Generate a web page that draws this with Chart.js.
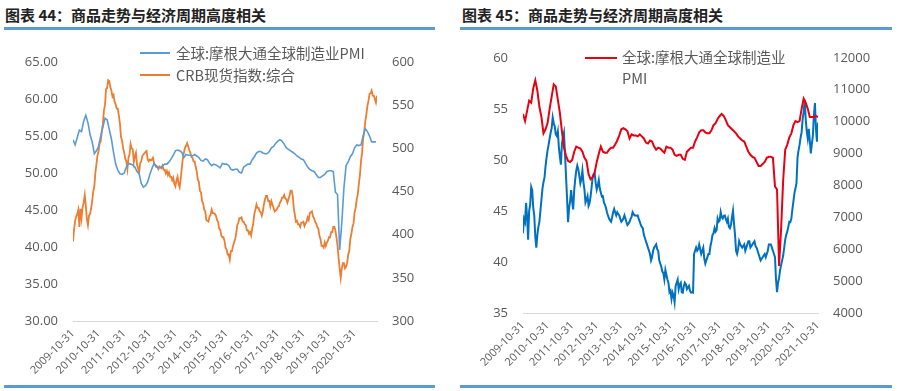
<!DOCTYPE html>
<html>
<head>
<meta charset="utf-8">
<script src="https://cdn.jsdelivr.net/npm/chart.js@4.4.0/dist/chart.umd.min.js"></script>
<style>
  html, body { margin:0; padding:0; background:#fff; }
  body { width:907px; height:391px; position:relative; overflow:hidden; font-family:"Noto Sans CJK SC", "Open Sans", sans-serif; }
  .title { position:absolute; top:4px; font-size:15px; font-weight:700; color:#222; white-space:nowrap; }
  .rule { position:absolute; height:3px; background:#5b9bd5; }
  .leg { position:absolute; font-size:14.5px; color:#595959; white-space:nowrap; line-height:20px; }
  .sw { position:absolute; height:2px; }
  canvas { position:absolute; }
</style>
</head>
<body>
<div class="title" style="left:5px">图表 44：商品走势与经济周期高度相关</div>
<div class="title" style="left:462px">图表 45：商品走势与经济周期高度相关</div>
<div class="rule" style="left:4px; width:431px; top:27px"></div>
<div class="rule" style="left:460px; width:432px; top:27px"></div>
<div class="rule" style="left:4px; width:431px; top:385px"></div>
<div class="rule" style="left:460px; width:432px; top:385px"></div>

<canvas id="left" width="440" height="350" style="left:0; top:35px"></canvas>
<canvas id="right" width="457" height="350" style="left:450px; top:35px"></canvas>

<div class="sw" style="left:140px; top:52px; width:30px; background:#5b9bd5"></div>
<div class="leg" style="left:176px; top:43px">全球:摩根大通全球制造业PMI</div>
<div class="sw" style="left:140px; top:74px; width:30px; background:#ed7d31"></div>
<div class="leg" style="left:176px; top:65px">CRB现货指数:综合</div>

<div class="sw" style="left:585px; top:57px; width:32px; background:#e60012"></div>
<div class="leg" style="left:622px; top:47px">全球:摩根大通全球制造业</div>
<div class="leg" style="left:622px; top:68px">PMI</div>

<script>
// x axis tick labels (one per year, every 12 months from Oct 2009)
const yearLabels = ['2009-10-31','2010-10-31','2011-10-31','2012-10-31','2013-10-31','2014-10-31',
  '2015-10-31','2016-10-31','2017-10-31','2018-10-31','2019-10-31','2020-10-31','2021-10-31'];

// JPM global manufacturing PMI, monthly from Oct 2009
const pmiValues = [
  54.5,53.8,54.8,55.8,55.6,57.0,57.8,56.8,55.2,54.2,52.6,53.0,
  53.6,55.0,56.2,57.4,57.2,55.9,54.6,52.8,51.2,50.4,49.9,49.8,
  50.0,50.8,51.3,51.2,51.1,50.8,50.2,49.9,48.6,48.1,48.3,48.8,
  49.8,50.6,51.3,50.8,50.7,50.7,51.0,51.2,51.2,51.5,51.9,52.4,
  53.0,53.1,53.0,52.8,52.1,52.5,52.4,52.4,52.3,52.5,52.3,52.1,
  51.7,51.6,51.9,51.8,51.3,51.0,51.2,51.1,50.9,50.7,51.3,51.2,
  51.2,51.0,50.5,50.4,50.5,50.5,50.1,50.0,50.8,51.0,51.2,51.2,
  51.8,52.2,52.7,52.9,52.9,52.7,52.6,52.6,52.9,53.4,53.6,54.0,
  54.3,54.5,54.3,53.9,53.4,53.2,53.0,52.8,52.6,52.3,52.1,51.9,
  51.8,51.3,50.8,50.5,50.3,50.2,49.8,49.4,49.4,49.6,49.8,50.2,
  50.3,50.3,50.2,47.4,47.1,39.6,43.3,48.0,51.0,51.5,52.2,52.6,
  53.4,53.8,53.7,53.8,55.0,56.0,55.6,55.0,54.2,54.2,54.2,54.3,
  54.2
];

// CRB spot index composite, two readings per month from Oct 2009
const crbValues = [
  392,406,416,421,424,429,409,430,419,432,437,446,
  434,418,411,422,424,430,439,450,456,472,482,492,
  497,506,508,520,528,544,550,569,570,579,578,571,
  567,560,562,554,551,546,546,538,529,513,509,500,
  495,488,485,476,489,493,505,500,499,484,491,495,
  481,477,472,483,485,491,493,494,496,497,487,485,
  487,486,487,489,482,481,480,479,476,479,478,477,
  480,475,475,471,474,469,472,467,467,463,466,459,
  456,463,467,459,455,465,477,489,495,501,503,506,
  502,498,495,490,489,485,485,479,473,464,461,451,
  449,439,436,429,427,417,416,415,421,423,429,425,
  425,424,422,417,415,407,406,399,397,397,393,385,
  383,377,377,371,381,381,387,391,395,401,411,414,
  419,419,420,415,415,412,411,405,405,401,403,399,
  407,413,424,429,435,431,431,427,426,422,427,435,
  441,445,445,439,439,433,439,435,431,427,428,429,
  432,433,437,439,443,443,446,442,441,437,441,445,
  451,451,445,431,423,415,416,412,412,409,414,414,
  415,410,413,415,420,417,425,426,427,421,419,415,
  413,409,407,399,395,387,387,385,391,387,391,393,
  397,397,403,403,409,409,405,397,387,373,361,350,
  361,367,367,361,363,367,377,381,395,401,409,413,
  426,431,441,447,459,469,485,495,511,519,531,539,
  549,555,563,564,567,561,561,557,553,561
];

// commodity index on the right chart (right axis), two readings per month from Oct 2009
const indexValues = [
  6500,6950,6850,7450,7000,6300,7200,7400,7950,7850,7300,7050,
  6400,6050,6450,6700,6850,7200,7550,7900,8100,8250,8600,8870,
  9100,9280,9470,9650,9800,10130,9950,9850,9600,9550,9700,9200,
  8900,8650,9300,9500,9650,9000,8300,7600,6850,7300,7500,7850,
  7500,7250,7850,8200,8470,8620,8500,8300,8070,8200,8470,8100,
  7870,7460,7550,7660,7360,7450,7660,7950,8260,8350,8370,8070,
  7870,8000,8170,7900,7770,7650,7660,7460,7400,7300,7150,7050,
  6960,6900,6860,7000,7160,7260,7150,7060,7160,7100,7060,6950,
  6860,6900,6960,7060,6960,6850,6760,6800,6860,6950,7010,7160,
  7100,7060,7060,7050,7060,6950,6860,6760,6700,6650,6450,6350,
  6250,6150,6050,5950,5850,5650,5750,5950,6050,6100,6150,6000,
  5950,5650,5550,5450,5300,5250,5050,5350,5200,5050,4950,4650,
  4700,4440,4640,4550,4340,4840,4950,5050,4750,4900,4950,4650,
  4640,4850,4950,4900,4750,4800,4850,4700,4640,4650,4640,5850,
  5950,6050,5950,6000,6150,6000,5850,5950,6050,5700,5550,5650,
  5750,5850,5850,6100,6250,6450,6500,6660,6550,6600,6960,6860,
  6900,7160,7000,6960,7050,7060,6950,6860,6960,6700,6660,6760,
  7000,7210,6800,6450,5950,5850,6000,6250,6150,6100,6050,6100,
  6150,5950,6050,6150,6250,6250,6050,6100,6150,6200,6250,6100,
  6050,5950,5850,5750,5650,5700,5750,5800,5850,5750,5850,5950,
  6150,6150,6150,6050,5950,5850,5750,5050,4650,4950,5100,5350,
  5500,5650,5800,6050,6300,6450,6550,6700,6860,6850,6950,7260,
  7500,7760,7900,8070,8870,9100,9270,9500,9670,10080,10300,10680,
  10080,9700,9470,9770,9400,9000,9300,9570,10200,10580,9770,9370,9970
];

const tickColor = '#595959';
const numFont = { family:'"Open Sans", "Noto Sans CJK SC", sans-serif', size:13 };

function toXY(arr, step){ return arr.map((v,i) => ({ x:i*step, y:v })); }

function xAxis(max, h){
  return {
    type:'linear', min:0, max:max,
    grid:{ display:false, drawTicks:false },
    border:{ display:true, color:'#d9d9d9', width:1 },
    ticks:{ stepSize:12, includeBounds:false, autoSkip:false, minRotation:45, maxRotation:45, padding:6,
      color:tickColor, font:{ family:numFont.family, size:11 },
      callback:v => (v % 12 === 0 ? yearLabels[v/12] : '') },
    afterFit:s => { s.height = h; }
  };
}
function yAxis(pos, min, max, step, w, fmt){
  return {
    position:pos, min:min, max:max,
    grid:{ display:false, drawTicks:false },
    border:{ display:false },
    ticks:{ stepSize:step, padding:15, color:tickColor, font:numFont, callback:fmt },
    afterFit:s => { s.width = w; }
  };
}

const baseOpts = { responsive:false, animation:false, plugins:{ legend:{display:false}, tooltip:{enabled:false} } };

new Chart(document.getElementById('left'), {
  type:'line',
  data:{ datasets:[
    { label:'全球:摩根大通全球制造业PMI', data:toXY(pmiValues.slice(0,143), 1), yAxisID:'y',
      borderColor:'#5b9bd5', borderWidth:1.6, pointRadius:0, tension:0 },
    { label:'CRB现货指数:综合', data:toXY(crbValues, 0.5), yAxisID:'y1',
      borderColor:'#ed7d31', borderWidth:1.8, pointRadius:0, tension:0 }
  ]},
  options:Object.assign({}, baseOpts, {
    layout:{ padding:{ top:27 } },
    scales:{
      x:xAxis(142.5, 64),
      y:yAxis('left', 30, 65, 5, 73, v => v.toFixed(2)),
      y1:yAxis('right', 300, 600, 50, 63, v => v)
    }
  })
});

new Chart(document.getElementById('right'), {
  type:'line',
  data:{ datasets:[
    { label:'全球:摩根大通全球制造业PMI', data:toXY(pmiValues, 1), yAxisID:'y',
      borderColor:'#e60012', borderWidth:2, pointRadius:0, tension:0 },
    { label:'商品指数', data:toXY(indexValues, 0.5), yAxisID:'y1',
      borderColor:'#0070c0', borderWidth:2, pointRadius:0, tension:0 }
  ]},
  options:Object.assign({}, baseOpts, {
    layout:{ padding:{ top:13 } },
    scales:{
      x:xAxis(144, 72),
      y:yAxis('left', 35, 60, 5, 73, v => v),
      y1:yAxis('right', 4000, 12000, 1000, 89, v => v)
    }
  })
});
</script>
</body>
</html>
